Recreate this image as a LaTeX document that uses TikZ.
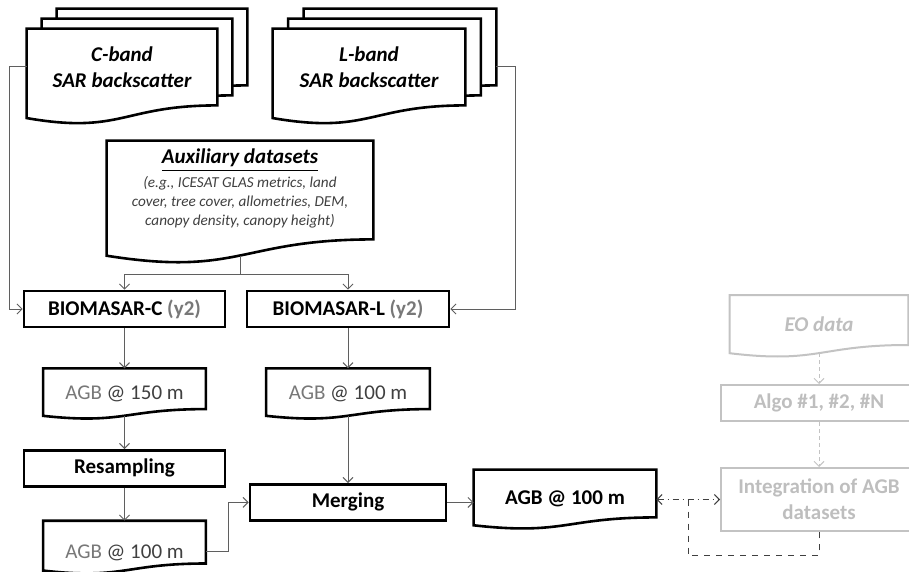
\documentclass[tikz,border=0pt]{standalone}
\usepackage{fontspec}
\setmainfont{Carlito}
\usetikzlibrary{arrows.meta, positioning, calc, backgrounds}

\definecolor{linegray}{RGB}{95,95,95}
\definecolor{darktext}{RGB}{64,64,64}
\definecolor{midgray}{RGB}{120,120,120}
\definecolor{lightframe}{RGB}{195,195,195}
\definecolor{lighttext}{RGB}{190,190,190}

\newcommand{\basefont}{\fontsize{10.5}{13}\selectfont}

% document outline with wavy bottom, drawn round node #2
\newcommand{\docshape}[2][docline]{%
  \draw[#1] let \p1=(#2.south west), \p2=(#2.north east), \n1={\y2-\y1}, \n2={\x2-\x1} in
    (\x1,\y2) -- (\x2,\y2) -- (\x2,\y1)
    .. controls (\x1+0.5*\n2,\y1) and (\x1+0.5*\n2,\y1-0.38*\n1) .. (\x1,\y1-0.165*\n1) -- cycle
    (\x1+0.5*\n2,\y1-0.163*\n1) coordinate (#2-b);}

\begin{document}
\begin{tikzpicture}[x=0.5pt, y=-0.5pt,
    box/.style={draw, line width=1.3pt, minimum height=18pt, inner sep=1pt, font=\basefont\bfseries},
    docnode/.style={inner sep=0pt, align=center, font=\basefont},
    lowtext/.style={text height=12pt, text depth=1pt},
    docline/.style={draw=black, line width=1.3pt, fill=white},
    greyline/.style={draw=lightframe, line width=1pt, fill=white},
    greybox/.style={draw=lightframe, line width=1pt, text=lighttext, minimum width=98pt, align=center, font=\basefont\bfseries},
    conn/.style={draw=linegray, line width=0.5pt, -{Straight Barb[length=2.5pt,width=5pt]}},
    greyconn/.style={draw=lightframe, line width=0.5pt, dash pattern=on 2pt off 1.5pt, -{Straight Barb[length=2.5pt,width=5pt]}},
    node distance=20pt]
    \useasboundingbox (0,0) rectangle (909,572);
    \clip (0,0) rectangle (909,572);

    % SAR stacks
    \node[docnode, minimum width=95pt, minimum height=38pt] (cband3) at (152,47) {};
    \node[docnode, minimum width=95pt, minimum height=38pt] (cband2) at (137,57) {};
    \node[docnode, minimum width=95pt, minimum height=38pt, font=\basefont\bfseries\itshape] (cband) at (122,67) {C-band\\SAR backscatter};
    \node[docnode, minimum width=96pt, minimum height=38pt] (lband3) at (400,47) {};
    \node[docnode, minimum width=96pt, minimum height=38pt] (lband2) at (384.5,57) {};
    \node[docnode, minimum width=96pt, minimum height=38pt, font=\basefont\bfseries\itshape] (lband) at (369,67) {L-band\\SAR backscatter};

    \node[docnode, minimum width=133pt, minimum height=49pt] (aux) at (240,190) {\textbf{\textit{\underline{Auxiliary datasets}}}\\[-1pt]
        {\fontsize{7.6}{9.3}\selectfont\itshape\color{darktext}\begin{tabular}[t]{@{}c@{}}(e.g., ICESAT GLAS metrics, land\\cover, tree cover, allometries, DEM,\\canopy density, canopy height)\end{tabular}}};

    \node[box, minimum width=100.5pt] (biomC) at (124.5,309) {BIOMASAR-C {\color{midgray}(y2)}};
    \node[box, minimum width=101pt] (biomL) at (348,309) {BIOMASAR-L {\color{midgray}(y2)}};

    \node[docnode, lowtext, minimum width=81pt, minimum height=20pt, below=of biomC] (agb150) {{\color{midgray}AGB} {\color{darktext}@ 150 m}};
    \node[docnode, lowtext, minimum width=81.5pt, minimum height=20pt, below=of biomL] (agb100L) {{\color{midgray}AGB} {\color{darktext}@ 100 m}};
    \node[box, minimum width=100.5pt, below=of agb150] (resamp) {Resampling};
    \node[docnode, text height=17pt, text depth=1pt, minimum width=81pt, minimum height=21pt, below=16.5pt of resamp] (agb100C) {{\color{midgray}AGB} {\color{darktext}@ 100 m}};
    \node[box, minimum width=98pt, below=37pt of agb100L] (merge) {Merging};
    \node[docnode, lowtext, font=\basefont\bfseries, minimum width=91pt, minimum height=23.5pt] (agbout) at (565,493.5) {AGB @ 100 m};

    % other products, in grey
    \node[greybox, minimum height=31.5pt] (integ) at (819,499.5) {Integration of AGB\\datasets};
    \node[greybox, minimum height=18pt, above=22.5pt of integ] (algo) {Algo \#1, \#2, \#N};
    \node[docnode, lowtext, text=lighttext, font=\basefont\bfseries\itshape, minimum width=89pt, minimum height=24.5pt, above=19.5pt of algo] (eo) {EO data};

    \begin{pgfonlayer}{background}
        \docshape{cband3} \docshape{cband2} \docshape{cband}
        \docshape{lband3} \docshape{lband2} \docshape{lband}
        \docshape{aux} \docshape{agb150} \docshape{agb100L} \docshape{agb100C} \docshape{agbout}
        \docshape[greyline]{eo}
    \end{pgfonlayer}

    \draw[conn] (cband.west) -- ++(-17,0) |- (biomC);
    \draw[conn] (lband.east -| lband3.east) -- ++(19,0) |- (biomL);
    \draw[conn] (aux-b) -- ++(0,19) coordinate (split) -| (biomC);
    \draw[conn] (split) -| (biomL);
    \draw[conn] (biomC) -- (agb150);
    \draw[conn] (agb150-b) -- (resamp);
    \draw[conn] (resamp) -- (agb100C);
    \draw[conn] (biomL) -- (agb100L);
    \draw[conn] (agb100L-b) -- (merge);
    \draw[conn] ([yshift=-4.5pt]agb100C.east) -- ++(23,0) |- (merge);
    \draw[conn] (merge) -- (merge -| agbout.west);
    \draw[greyconn] (eo-b) -- (algo);
    \draw[greyconn] (algo) -- (integ);
    \draw[darktext, line width=0.5pt, dash dot, {Straight Barb[length=2.5pt,width=5pt]}-{Straight Barb[length=2.5pt,width=5pt]}] (integ.west -| agbout.east) -- coordinate[pos=0.5] (fork) (integ.west);
    \draw[darktext, line width=0.5pt, dashed] (fork) -- ++(0,56) -| (integ);
\end{tikzpicture}
\end{document}
